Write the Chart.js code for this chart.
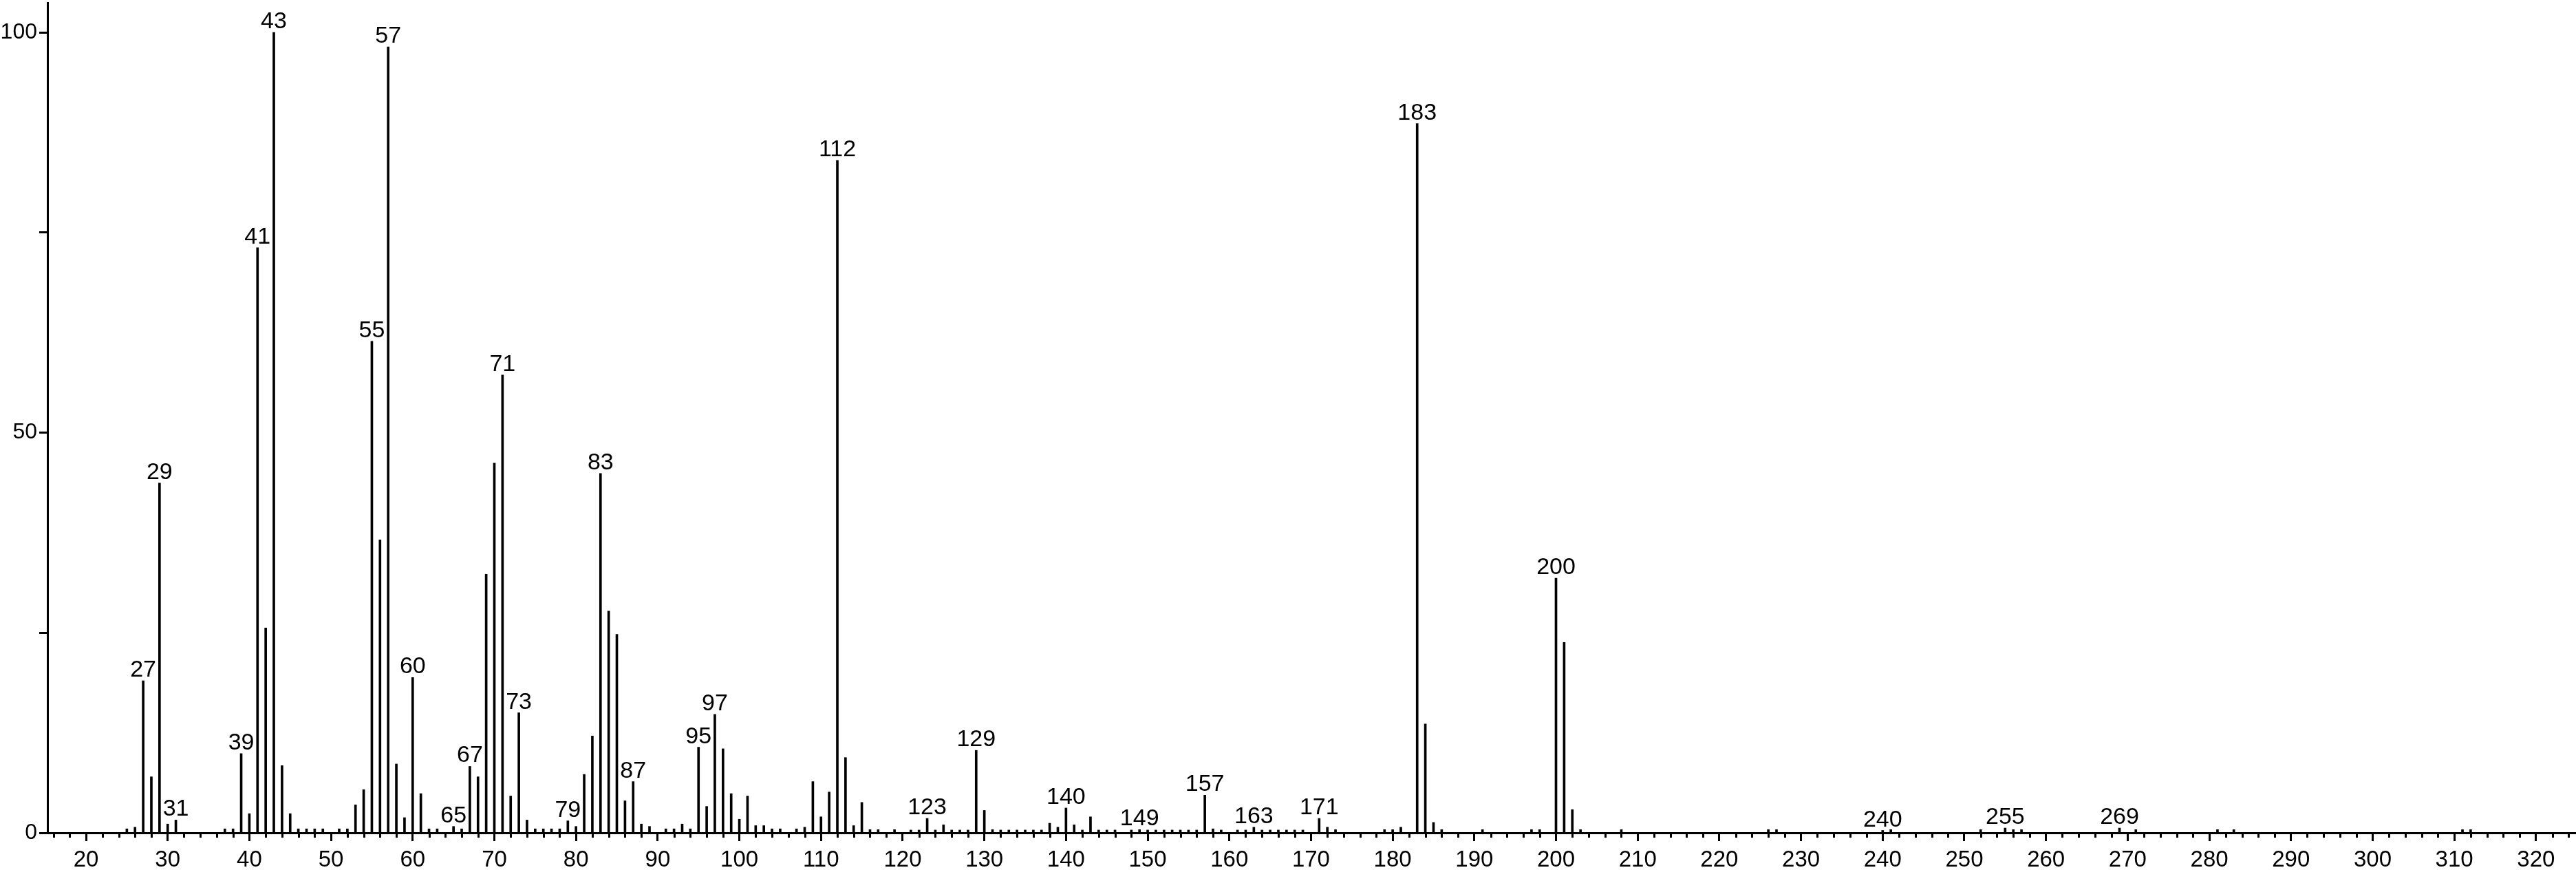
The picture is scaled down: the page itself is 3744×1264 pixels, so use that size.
<!DOCTYPE html>
<html>
<head>
<meta charset="utf-8">
<title>Mass spectrum</title>
<script src="https://cdn.jsdelivr.net/npm/chart.js@4.4.1/dist/chart.umd.min.js"></script>
<style>
    html, body { margin: 0; padding: 0; background: #fff; }
    #wrap { width: 3744px; height: 1264px; }
</style>
</head>
<body>
<div id="wrap"><canvas id="spectrum"></canvas></div>
<script>
// m/z values and relative intensities
const mz = [
    25, 26, 27, 28, 29, 30, 31, 37, 38, 39, 40, 41, 42, 43, 44, 45, 46, 47, 48, 49,
    51, 52, 53, 54, 55, 56, 57, 58, 59, 60, 61, 62, 63, 65, 66, 67, 68, 69, 70, 71,
    72, 73, 74, 75, 76, 77, 78, 79, 80, 81, 82, 83, 84, 85, 86, 87, 88, 89, 91, 92,
    93, 94, 95, 96, 97, 98, 99, 100, 101, 102, 103, 104, 105, 107, 108, 109, 110, 111, 112, 113,
    114, 115, 116, 117, 119, 121, 122, 123, 124, 125, 126, 127, 128, 129, 130, 131, 132, 133, 134, 135,
    136, 137, 138, 139, 140, 141, 142, 143, 144, 145, 146, 148, 149, 150, 151, 152, 153, 154, 155, 156,
    157, 158, 159, 161, 162, 163, 164, 165, 166, 167, 168, 169, 171, 172, 173, 179, 180, 181, 183, 184,
    185, 186, 191, 197, 198, 200, 201, 202, 203, 208, 226, 227, 240, 241, 252, 255, 256, 257, 269, 271,
    281, 283, 311, 312
];
const intensity = [
    0.5, 0.7, 19.0, 7.0, 43.7, 1.1, 1.6, 0.5, 0.5, 9.9, 2.4, 73.1, 25.6, 100, 8.4, 2.4, 0.5, 0.5, 0.5, 0.5,
    0.5, 0.5, 3.5, 5.4, 61.4, 36.6, 98.2, 8.6, 1.9, 19.4, 4.9, 0.5, 0.5, 0.8, 0.5, 8.3, 7.0, 32.3, 46.2, 57.2,
    4.6, 15.0, 1.6, 0.5, 0.5, 0.5, 0.5, 1.5, 0.8, 7.3, 12.1, 44.9, 27.7, 24.8, 4.0, 6.4, 1.1, 0.8, 0.5, 0.5,
    1.1, 0.5, 10.7, 3.3, 14.8, 10.5, 4.9, 1.7, 4.6, 0.9, 0.9, 0.5, 0.5, 0.5, 0.7, 6.4, 2.0, 5.1, 84.0, 9.4,
    0.9, 3.8, 0.4, 0.4, 0.4, 0.35, 0.35, 1.8, 0.35, 1.0, 0.35, 0.35, 0.35, 10.3, 2.8, 0.4, 0.35, 0.35, 0.35, 0.35,
    0.35, 0.35, 1.2, 0.7, 3.1, 1.0, 0.35, 2.0, 0.35, 0.35, 0.35, 0.35, 0.4, 0.35, 0.35, 0.35, 0.35, 0.35, 0.35, 0.35,
    4.7, 0.5, 0.35, 0.35, 0.35, 0.7, 0.35, 0.35, 0.35, 0.35, 0.35, 0.35, 1.8, 0.7, 0.4, 0.4, 0.4, 0.7, 88.6, 13.6,
    1.3, 0.4, 0.4, 0.4, 0.4, 31.8, 23.8, 2.9, 0.4, 0.4, 0.4, 0.4, 0.3, 0.4, 0.4, 0.6, 0.4, 0.4, 0.6, 0.4,
    0.4, 0.4, 0.4, 0.4
];
// peaks that carry an m/z label
const labeledPeaks = [27, 29, 31, 39, 41, 43, 55, 57, 60, 65, 67, 71, 73, 79, 83, 87, 95, 97, 112,
    123, 129, 140, 149, 157, 163, 171, 183, 200, 240, 255, 269];
const yTickLabels = [0, 50, 100];

const FONT = "'Liberation Sans', Arial, Helvetica, sans-serif";

const points = mz.map((m, i) => ({ x: m, y: intensity[i] }));

// minor ticks every 2 units, shorter than the major ones
const minorTicksPlugin = {
    id: "minorTicks",
    afterDraw(chart) {
        const xScale = chart.scales.x;
        const ctx = chart.ctx;
        const top = xScale.top;
        ctx.save();
        ctx.strokeStyle = "#000";
        ctx.lineWidth = 3;
        ctx.beginPath();
        for (let v = Math.ceil(xScale.min / 2) * 2; v <= xScale.max; v += 2) {
            if (v % 10 === 0) continue;
            const px = Math.round(xScale.getPixelForValue(v)) + 0.5;
            ctx.moveTo(px, top);
            ctx.lineTo(px, top + 7);
        }
        ctx.stroke();
        ctx.restore();
    }
};

// m/z numbers above the main peaks
const peakLabelPlugin = {
    id: "peakLabels",
    afterDatasetsDraw(chart) {
        const xScale = chart.scales.x;
        const yScale = chart.scales.y;
        const ctx = chart.ctx;
        ctx.save();
        ctx.font = "34px " + FONT;
        ctx.fillStyle = "#000";
        ctx.textAlign = "center";
        ctx.textBaseline = "alphabetic";
        labeledPeaks.forEach(p => {
            const idx = mz.indexOf(p);
            if (idx < 0) return;
            const px = xScale.getPixelForValue(p);
            const py = yScale.getPixelForValue(intensity[idx]);
            ctx.fillText(String(p), px, py - 6);
        });
        ctx.restore();
    }
};

new Chart(document.getElementById("spectrum"), {
    type: "bar",
    data: {
        datasets: [{
            data: points,
            backgroundColor: "#000",
            borderWidth: 0,
            barThickness: 3
        }]
    },
    options: {
        responsive: true,
        maintainAspectRatio: false,
        animation: false,
        events: [],
        layout: {
            autoPadding: false,
            padding: { top: 4, right: 0, bottom: 0, left: 0 }
        },
        plugins: {
            legend: { display: false },
            tooltip: { enabled: false }
        },
        scales: {
            x: {
                type: "linear",
                position: "bottom",
                offset: false,
                min: 15.28,
                max: 324.9,
                afterFit(scale) {
                    scale.height = 54;
                    scale.paddingLeft = 0;
                    scale.paddingRight = 0;
                },
                border: { display: true, color: "#000", width: 3 },
                grid: {
                    offset: false,
                    drawOnChartArea: false,
                    drawTicks: true,
                    tickLength: 12,
                    tickWidth: 3,
                    tickColor: "#000"
                },
                ticks: {
                    stepSize: 10,
                    includeBounds: false,
                    autoSkip: false,
                    maxRotation: 0,
                    padding: 8,
                    color: "#000",
                    font: { family: FONT, size: 33 },
                    callback: value => (value % 10 === 0 ? String(value) : "")
                }
            },
            y: {
                min: 0,
                max: 103.7,
                afterFit(scale) {
                    scale.width = 69;
                    scale.paddingTop = 0;
                    scale.paddingBottom = 0;
                },
                border: { display: true, color: "#000", width: 3 },
                grid: {
                    drawOnChartArea: false,
                    drawTicks: true,
                    tickLength: 12,
                    tickWidth: 3,
                    tickColor: "#000"
                },
                ticks: {
                    stepSize: 25,
                    includeBounds: false,
                    padding: 3,
                    color: "#000",
                    font: { family: FONT, size: 32 },
                    callback: value => (yTickLabels.includes(value) ? String(value) : "")
                }
            }
        }
    },
    plugins: [minorTicksPlugin, peakLabelPlugin]
});
</script>
</body>
</html>
